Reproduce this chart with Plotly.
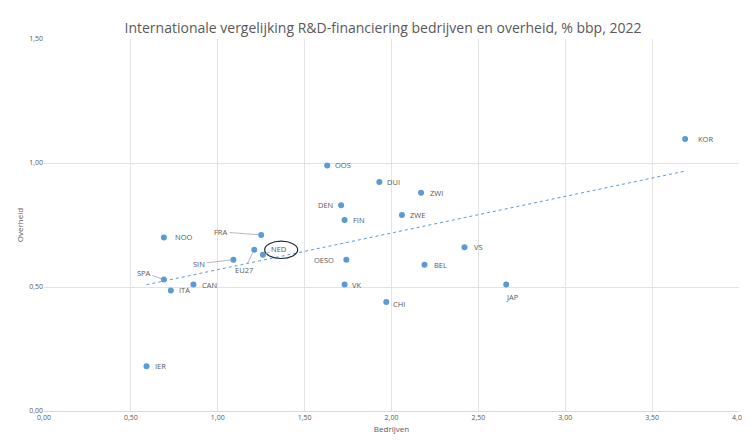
import plotly.graph_objects as go
import numpy as np

landen = ["KOR","OOS","DUI","ZWI","DEN","ZWE","FIN","FRA","NOO","EU27","NED","SIN","OESO","BEL","VS","SPA","CAN","ITA","VK","CHI","JAP","IER"]
bedrijven = [3.69,1.63,1.93,2.17,1.71,2.06,1.73,1.25,0.69,1.21,1.26,1.09,1.74,2.19,2.42,0.69,0.86,0.73,1.73,1.97,2.66,0.59]
overheid = [1.097,0.99,0.923,0.88,0.83,0.79,0.77,0.71,0.70,0.65,0.63,0.61,0.61,0.59,0.66,0.53,0.51,0.486,0.51,0.44,0.51,0.18]

offsets = {
 "KOR":(20,0,False),"OOS":(16,0,False),"DUI":(14,0,False),"ZWI":(15,0,False),
 "DEN":(-16,0,False),"ZWE":(16,0,False),"FIN":(14,0,False),"FRA":(-40,-3,True),
 "NOO":(20,0,False),"EU27":(-10,20,True),"NED":(16,-6,True),"SIN":(-34,4,True),
 "OESO":(-22,0,False),"BEL":(16,0,False),"VS":(14,0,False),"SPA":(-20,-7,True),
 "CAN":(16,0,False),"ITA":(14,0,False),"VK":(12,0,False),"CHI":(13,2,False),
 "JAP":(6,12,False),"IER":(14,0,False),
}

fig = go.Figure()
fig.add_trace(go.Scatter(x=bedrijven, y=overheid, mode="markers",
    marker=dict(color="#5B9BD5", size=6), hoverinfo="text", text=landen))

b, a = np.polyfit(bedrijven, overheid, 1)
xs = [min(bedrijven), max(bedrijven)]
fig.add_trace(go.Scatter(x=xs, y=[a + b*v for v in xs], mode="lines",
    line=dict(color="#5B9BD5", width=1, dash="dot"), hoverinfo="skip"))

for n, x, y in zip(landen, bedrijven, overheid):
    ax, ay, arrow = offsets[n]
    if arrow:
        fig.add_annotation(x=x, y=y, text=n, ax=ax, ay=ay, showarrow=True, arrowhead=0,
            arrowwidth=0.8, arrowcolor="#A6A6A6", standoff=3,
            font=dict(size=7.5, color="#595959"))
    else:
        fig.add_annotation(x=x, y=y, text=n, xshift=ax, yshift=-ay, showarrow=False,
            font=dict(size=7.5, color="#595959"))

fig.add_shape(type="circle", xref="x", yref="y", x0=1.27, x1=1.46, y0=0.615, y1=0.685,
              line=dict(color="#1F2D3D", width=1.2))

fig.update_layout(
    width=750, height=441, showlegend=False,
    paper_bgcolor="white", plot_bgcolor="white",
    font=dict(family="Open Sans", color="#595959"),
    title=dict(text="Internationale vergelijking R&D-financiering bedrijven en overheid, % bbp, 2022",
               x=0.5, xanchor="center", y=0.965, font=dict(size=14, color="#595959")),
    margin=dict(l=31, r=16, t=31, b=38),
    xaxis=dict(range=[0,4], dtick=0.5, tickformat=".2f",
               showgrid=True, gridcolor="#E3E3E3", zeroline=False,
               showline=True, linecolor="#D9D9D9", tickfont=dict(size=7),
               title=dict(text="Bedrijven", font=dict(size=8), standoff=4)),
    yaxis=dict(range=[0,1.5], dtick=0.5, tickformat=".2f",
               showgrid=True, gridcolor="#E3E3E3", zeroline=False,
               showline=False, tickfont=dict(size=7),
               title=dict(text="Overheid", font=dict(size=8), standoff=4)),
    separators=", ",
)
fig.write_html("out.html")
